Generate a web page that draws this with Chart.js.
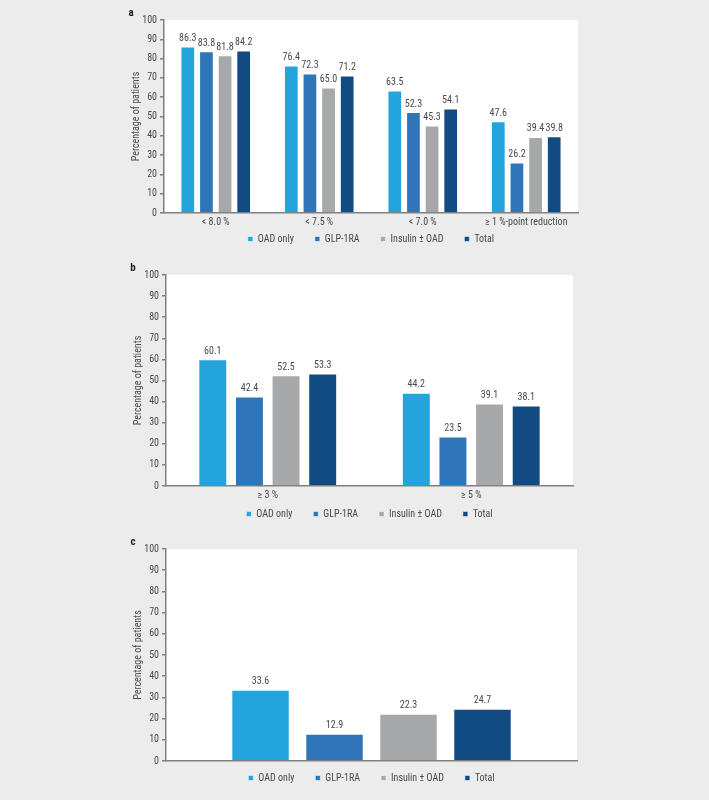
<!DOCTYPE html>
<html>
<head>
<meta charset="utf-8">
<script src="https://cdn.jsdelivr.net/npm/chart.js@4"></script>
<style>
  html, body { margin: 0; padding: 0; background: #ececec; }
  #page { position: relative; width: 709px; height: 800px; overflow: hidden; }
  canvas { position: absolute; left: 0; }
</style>
</head>
<body>
<div id="page">
  <canvas id="chartA" width="709" height="255" style="top:0px"></canvas>
  <canvas id="chartB" width="709" height="275" style="top:255px"></canvas>
  <canvas id="chartC" width="709" height="270" style="top:530px"></canvas>
</div>
<script>
// ── Data ────────────────────────────────────────────────
const seriesNames = ['OAD only', 'GLP-1RA', 'Insulin ± OAD', 'Total'];
const panelLabels = ['a', 'b', 'c'];
const yTitle = 'Percentage of patients';
const yMin = 0, yMax = 100, yStep = 10;

// panel a: HbA1c targets
const catsA = ['< 8.0 %', '< 7.5 %', '< 7.0 %', '≥ 1 %-point reduction'];
const oadA = [86.3, 76.4, 63.5, 47.6];
const glpA = [83.8, 72.3, 52.3, 26.2];
const insA = [81.8, 65.0, 45.3, 39.4];
const totA = [84.2, 71.2, 54.1, 39.8];

// panel b: weight loss
const catsB = ['≥ 3 %', '≥ 5 %'];
const oadB = [60.1, 44.2];
const glpB = [42.4, 23.5];
const insB = [52.5, 39.1];
const totB = [53.3, 38.1];

// panel c: single group
const catsC = [''];
const oadC = [33.6];
const glpC = [12.9];
const insC = [22.3];
const totC = [24.7];

// ── Styles ──────────────────────────────────────────────
const COLORS = ['#23a4dd', '#2f75b9', '#a6a8a9', '#124b82'];
const FONT = "'Liberation Sans Narrow', 'Roboto Condensed', 'DejaVu Sans Condensed', 'Open Sans', sans-serif";
const TEXT = '#4a4a4a';
const AXIS = '#808080';

Chart.defaults.font.family = FONT;
Chart.defaults.font.size = 10;
Chart.defaults.color = TEXT;

// white plot area on grey page
const plotBg = {
  id: 'plotBg',
  beforeDraw(chart) {
    const { ctx, chartArea: a } = chart;
    ctx.save();
    ctx.fillStyle = '#ffffff';
    ctx.fillRect(a.left, a.top, a.right - a.left, a.bottom - a.top);
    ctx.restore();
  },
};

// values above bars
const barValues = {
  id: 'barValues',
  afterDatasetsDraw(chart) {
    const ctx = chart.ctx;
    ctx.save();
    ctx.font = `10px ${FONT}`;
    ctx.fillStyle = TEXT;
    ctx.textAlign = 'center';
    ctx.textBaseline = 'bottom';
    chart.data.datasets.forEach((ds, i) => {
      chart.getDatasetMeta(i).data.forEach((bar, j) => {
        ctx.fillText(ds.data[j].toFixed(1), bar.x, bar.y - 3);
      });
    });
    ctx.restore();
  },
};

// panel letter + legend placement
const panelBits = {
  id: 'panelBits',
  beforeInit(chart) {
    const fit = chart.legend.fit;
    chart.legend.fit = function () { fit.call(this); this.height = 8; };
  },
  afterLayout(chart, args, opts) {
    const lg = chart.legend;
    lg.top = chart.chartArea.bottom + opts.legendOffset;
    lg.bottom = lg.top + 40;
    lg.height = 40;
  },
  afterDraw(chart, args, opts) {
    const { ctx, chartArea: a } = chart;
    ctx.save();
    ctx.font = `bold 11px ${FONT}`;
    ctx.fillStyle = '#222';
    ctx.textAlign = 'center';
    ctx.textBaseline = 'middle';
    ctx.fillText(opts.letter, a.left - 33, a.top - 7);
    ctx.restore();
  },
};

function makeChart(id, cats, values, letter, box) {
  const ctx = document.getElementById(id).getContext('2d');
  return new Chart(ctx, {
    type: 'bar',
    data: {
      labels: cats,
      datasets: values.map((v, i) => ({
        label: seriesNames[i],
        data: v,
        backgroundColor: COLORS[i],
        borderColor: 'rgba(255,255,255,0.5)',
        borderWidth: 1,
        categoryPercentage: 0.72,
        barPercentage: 0.79,
      })),
    },
    options: {
      responsive: false,
      animation: false,
      layout: { padding: box.padding },
      plugins: {
        legend: {
          position: 'bottom',
          fullSize: false,
          labels: { boxWidth: 5, boxHeight: 5, padding: 21, color: TEXT, font: { size: 10 } },
        },
        tooltip: { enabled: false },
        panelBits: { letter, legendOffset: box.legendOffset },
      },
      scales: {
        x: {
          grid: { display: false, drawTicks: false },
          border: { display: true, color: AXIS, width: 1.5 },
          ticks: { display: box.showX, color: TEXT, padding: 3, maxRotation: 0, autoSkip: false, font: { size: 10 } },
          afterFit: (s) => { s.height = box.xHeight; },
        },
        y: {
          min: yMin,
          max: yMax,
          ticks: { stepSize: yStep, color: TEXT, padding: 3, font: { size: 10 } },
          grid: { drawOnChartArea: false, drawTicks: true, tickLength: 4, color: AXIS, lineWidth: 1.5 },
          border: { display: true, color: AXIS, width: 1.5 },
          title: { display: true, text: yTitle, color: TEXT, font: { size: 10 }, padding: { top: 6, bottom: 0 } },
          afterFit: (s) => { s.width = 40; },
        },
      },
    },
    plugins: [plotBg, barValues, panelBits],
  });
}

makeChart('chartA', catsA, [oadA, glpA, insA, totA], panelLabels[0], {
  padding: { top: 20, left: 124, right: 131, bottom: 4 }, xHeight: 30, showX: true, legendOffset: 0,
});
makeChart('chartB', catsB, [oadB, glpB, insB, totB], panelLabels[1], {
  padding: { top: 20, left: 126, right: 136, bottom: 6 }, xHeight: 30, showX: true, legendOffset: 2,
});
makeChart('chartC', catsC, [oadC, glpC, insC, totC], panelLabels[2], {
  padding: { top: 19, left: 126, right: 132, bottom: 31 }, xHeight: 0, showX: false, legendOffset: -9,
});
</script>
</body>
</html>
